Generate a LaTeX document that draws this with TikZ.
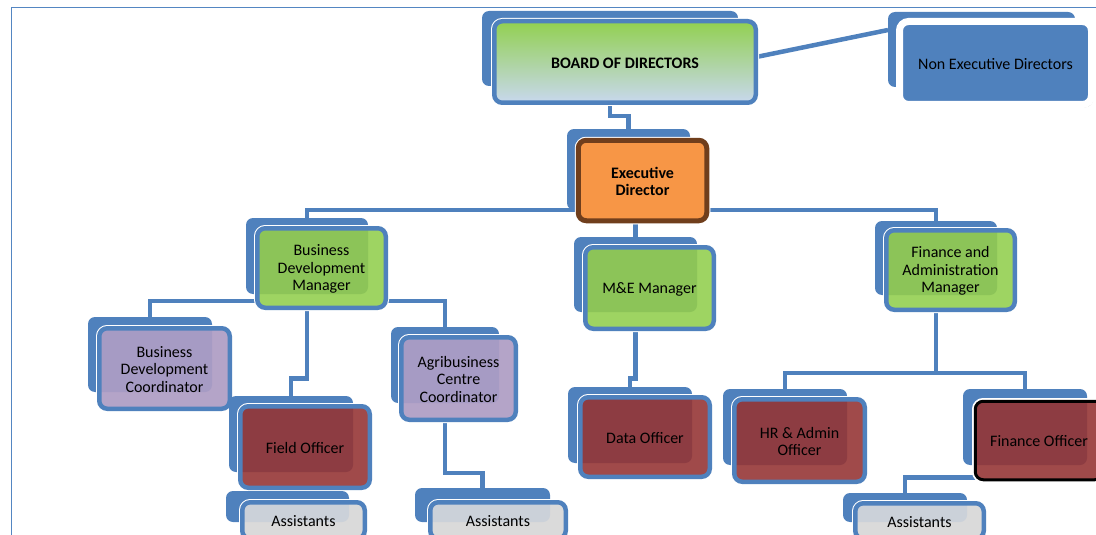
\documentclass[tikz,border=0pt]{standalone}
\usepackage{fontspec}
\setmainfont{Carlito}
\usetikzlibrary{fit,calc,backgrounds,shadows}

\definecolor{orgblue}{RGB}{79,129,189}
\definecolor{framebl}{RGB}{84,134,194}
\definecolor{mgrgreen}{RGB}{158,212,98}
\definecolor{mgrgreenov}{RGB}{140,196,88}
\definecolor{coordlav}{RGB}{180,164,200}
\definecolor{coordlavov}{RGB}{166,155,196}
\definecolor{offred}{RGB}{160,74,74}
\definecolor{offredov}{RGB}{141,60,66}
\definecolor{asgrey}{RGB}{218,218,218}
\definecolor{asgreyov}{RGB}{203,209,217}
\definecolor{execorange}{RGB}{247,150,70}
\definecolor{execbrown}{RGB}{112,62,28}
\definecolor{boardtop}{RGB}{146,208,80}
\definecolor{boardbot}{RGB}{200,216,238}

\tikzset{
  link/.style={draw=orgblue, line width=4.5pt},
  backbox/.style={fill=orgblue, rounded corners=7pt, inner sep=0pt, outer sep=0pt},
  frontbox/.style={preaction={draw=white, line width=6.5pt, rounded corners=8pt},
    draw=orgblue, line width=4.5pt, rounded corners=8pt, inner sep=-2.25pt,
    outer sep=0pt},
  cardtext/.style={align=center, text=black, inner sep=0pt, yshift=-1pt,
    font=\fontsize{16}{17.5}\selectfont},
  cardbold/.style={cardtext, font=\bfseries\fontsize{16}{17.5}\selectfont},
  frameline/.style={draw=framebl, line width=1.5pt},
}

% back card, front card with the overlap tinted, and the label
% #1 name, #2 back corners, #3 front corners, #4 front style, #5 overlap colour, #6 text
\newcommand\orgcard[6]{%
  \node[backbox, fit={#2}] (#1b) {};
  \node[frontbox, #4, fit={#3},
    path picture={\fill[#5, rounded corners=7pt] (#1b.north west) rectangle (#1b.south east);},
    label={[cardtext]center:{#6}}]
    (#1) {};
}

\begin{document}
\begin{tikzpicture}[x=1pt, y=-1pt]
\useasboundingbox (0,0) rectangle (1096,535);

% page frame
\draw[frameline] (11.5,535) -- (11.5,7.5) -- (1096,7.5);

% top level
\node[backbox, fit={(482,11) (738,86)}] (boardb) {};
\node[frontbox, top color=boardtop, bottom color=boardbot, fit={(492,19) (758,105)},
  label={[cardbold]center:BOARD OF DIRECTORS}] (board) {};

\node[backbox, fit={(888,12) (1075,87)}] (nonexecb) {};
\node[fill=orgblue, draw=white, line width=7pt, rounded corners=9pt, inner sep=-3.5pt,
  outer sep=0pt,
  drop shadow={shadow xshift=2pt, shadow yshift=-3pt, opacity=0.3},
  fit={(896,18) (1095,108)},
  label={[cardtext]center:Non Executive Directors}] (nonexec) {};

\node[backbox, fit={(567,129) (690,210)}] (execb) {};
\node[frontbox, preaction={draw=white, line width=7pt, rounded corners=8pt},
  draw=execbrown, line width=5pt, fill=execorange, fit={(576,138) (709,223)},
  label={[cardbold]center:{Executive\\Director}}] (exec) {};

% managers
\orgcard{bdm}{(246,218) (368,294)}{(255,226) (388,310)}{fill=mgrgreen}{mgrgreenov}{Business\\Development\\Manager}
\orgcard{med}{(574,237) (697,312)}{(583,245) (716,331)}{fill=mgrgreen}{mgrgreenov}{M\&E Manager}
\orgcard{fam}{(875,221) (997,295)}{(884,228) (1017,312)}{fill=mgrgreen}{mgrgreenov}{Finance and\\Administration\\Manager}

% coordinators
\orgcard{bdc}{(88,317) (212,392)}{(97,326) (232,411)}{fill=coordlav}{coordlavov}{Business\\Development\\Coordinator}
\orgcard{acc}{(391,327) (499,403)}{(399,335) (518,422)}{fill=coordlav}{coordlavov}{Agribusiness\\Centre\\Coordinator}

% officers
\orgcard{fo}{(229,396) (353,472)}{(238,404) (372,490)}{fill=offred}{offredov}{Field Officer}
\orgcard{data}{(568,387) (692,463)}{(578,395) (712,479)}{fill=offred}{offredov}{Data Officer}
\orgcard{hr}{(723,389) (847,465)}{(732,397) (867,484)}{fill=offred}{offredov}{HR \& Admin\\Officer}
\orgcard{fin}{(963,389) (1087,465)}{(973,399) (1105,482)}{fill=offred, draw=black, line width=3pt}{offredov}{Finance Officer}

% assistants
\orgcard{asl}{(226,491) (349,522)}{(240,500) (367,541)}{fill=asgrey}{asgreyov}{Assistants}
\orgcard{asm}{(415,488) (550,522)}{(428,500) (568,541)}{fill=asgrey}{asgreyov}{Assistants}
\orgcard{asr}{(843,493) (967,522)}{(853,501) (986,541)}{fill=asgrey}{asgreyov}{Assistants}

% reporting lines, behind the cards
\begin{scope}[on background layer]
  \draw[link] ($(board.north east)!0.44!(board.south east)$) -- ($(nonexecb.north west)!0.24!(nonexecb.south west)$);
  \draw[link] (boardb.south) |- ($(board.south)!0.5!(execb.north)$) -| (execb.north);
  \draw[link] (bdmb.north) |- (execb.south) -| (famb.north);
  \draw[link] (medb.north |- exec.south) -- (medb.north);
  \draw[link] (bdcb.north) |- ($(bdmb.south)!0.5!(bdm.south)$) -| (accb.north);
  \draw[link] (bdmb.south) |- ($(bdm.south)!0.8!(fob.north)$) -| (fob.north);
  \draw[link] (fob.south) |- ($(fo.south)!0.5!(aslb.north)$) -| (aslb.north);
  \draw[link] (accb.south) |- ($(acc.south)!0.78!(asmb.north)$) -| (asmb.north);
  \draw[link] (medb.south) |- ($(med.south)!0.85!(datab.north)$) -| (datab.north);
  \coordinate (busF) at ($(fam.south)!0.8!(hrb.north)$);
  \draw[link] (famb.south) -- (famb.south |- busF);
  \draw[link] (hrb.north) |- (busF) -| (finb.north);
  \draw[link] (finb.south) |- ($(finb.south)!0.45!(asrb.north)$) -| (asrb.north);
\end{scope}
\end{tikzpicture}
\end{document}
